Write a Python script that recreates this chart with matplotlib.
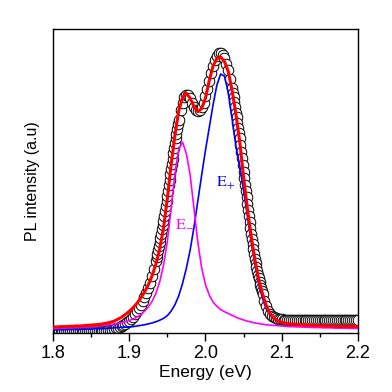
import numpy as np
import matplotlib
matplotlib.use("Agg")
import matplotlib.pyplot as plt

plt.rcParams['font.family'] = ['Liberation Sans', 'DejaVu Sans']

# measured PL spectrum (open circles), read in pieces with different steps
exp_a = [0.002, 0.002, 0.002, 0.002, 0.002, 0.003, 0.003, 0.003, 0.003, 0.003,
         0.003, 0.003, 0.003, 0.004, 0.004, 0.004, 0.004, 0.004, 0.004, 0.005,
         0.005, 0.005, 0.005, 0.006, 0.006, 0.006, 0.007, 0.007, 0.008, 0.009,
         0.010, 0.011, 0.013, 0.015, 0.017, 0.020, 0.023, 0.027, 0.031, 0.036,
         0.041, 0.047, 0.054, 0.062, 0.071, 0.081, 0.092, 0.104, 0.117, 0.131,
         0.147, 0.165, 0.186, 0.210]  # 1.8000 .. 1.9325
exp_b = [0.237, 0.249, 0.261, 0.274, 0.287, 0.300, 0.313, 0.327, 0.341, 0.355,
         0.370, 0.386, 0.402, 0.418, 0.434, 0.450, 0.468, 0.486, 0.504, 0.522,
         0.540, 0.557, 0.574, 0.591, 0.608, 0.625, 0.641, 0.656, 0.671, 0.686,
         0.700]  # 1.935 .. 1.965
exp_c = [0.732, 0.757, 0.775, 0.784, 0.782, 0.772, 0.757, 0.743, 0.734, 0.730,
         0.733, 0.742, 0.757, 0.778, 0.803, 0.830, 0.856, 0.879, 0.898, 0.912,
         0.920, 0.921, 0.915, 0.903, 0.886, 0.864, 0.835]  # 1.9675 .. 2.0325
exp_d = [0.805, 0.790, 0.775, 0.759, 0.742, 0.725, 0.709, 0.692, 0.675, 0.658,
         0.640, 0.619, 0.597, 0.575, 0.553, 0.530, 0.509, 0.488, 0.467, 0.446,
         0.425, 0.405, 0.385, 0.365, 0.345, 0.325, 0.308, 0.292, 0.276, 0.260,
         0.245, 0.231, 0.218, 0.205, 0.192, 0.180, 0.169, 0.158, 0.148, 0.138,
         0.128]  # 2.035 .. 2.075
exp_e = [0.106, 0.088, 0.074, 0.064, 0.057, 0.052, 0.049, 0.047, 0.046, 0.045,
         0.044, 0.044, 0.044, 0.044, 0.044, 0.044, 0.044, 0.044, 0.044, 0.044,
         0.044, 0.044, 0.044, 0.044, 0.044, 0.044, 0.044, 0.044, 0.044, 0.044,
         0.043, 0.043, 0.043, 0.043, 0.043, 0.043, 0.043, 0.043, 0.043, 0.043,
         0.043, 0.043, 0.043, 0.043, 0.043, 0.043, 0.043, 0.043, 0.043, 0.043]  # 2.0775 .. 2.2

exp_energy = np.concatenate([np.linspace(1.8, 1.9325, len(exp_a)),
                             np.linspace(1.935, 1.965, len(exp_b)),
                             np.linspace(1.9675, 2.0325, len(exp_c)),
                             np.linspace(2.035, 2.075, len(exp_d)),
                             np.linspace(2.0775, 2.2, len(exp_e))])
exp_intensity = np.array(exp_a + exp_b + exp_c + exp_d + exp_e)

# fitted curves, every 0.005 eV from 1.8 to 2.2
fit_total = [0.020, 0.020, 0.021, 0.021, 0.022, 0.022, 0.023, 0.023, 0.024, 0.025,
             0.026, 0.027, 0.028, 0.030, 0.032, 0.035, 0.039, 0.045, 0.052, 0.061,
             0.071, 0.083, 0.097, 0.114, 0.134, 0.158, 0.188, 0.226, 0.276, 0.345,
             0.440, 0.553, 0.650, 0.730, 0.775, 0.789, 0.772, 0.745, 0.728, 0.738,
             0.772, 0.830, 0.878, 0.903, 0.908, 0.893, 0.860, 0.798, 0.720, 0.630,
             0.515, 0.410, 0.320, 0.240, 0.175, 0.128, 0.089, 0.063, 0.048, 0.040,
             0.035, 0.032, 0.030, 0.029, 0.028, 0.027, 0.026, 0.026, 0.025, 0.025,
             0.024, 0.024, 0.023, 0.023, 0.023, 0.022, 0.022, 0.022, 0.022, 0.022,
             0.022]
fit_eplus = [0.011, 0.011, 0.011, 0.011, 0.012, 0.012, 0.012, 0.012, 0.013, 0.013,
             0.013, 0.014, 0.014, 0.015, 0.015, 0.016, 0.017, 0.018, 0.019, 0.019,
             0.020, 0.021, 0.023, 0.025, 0.027, 0.030, 0.033, 0.037, 0.042, 0.048,
             0.057, 0.072, 0.093, 0.122, 0.163, 0.213, 0.273, 0.348, 0.433, 0.518,
             0.600, 0.675, 0.750, 0.815, 0.852, 0.845, 0.790, 0.705, 0.615, 0.550,
             0.470, 0.385, 0.300, 0.225, 0.160, 0.112, 0.078, 0.058, 0.046, 0.039,
             0.035, 0.032, 0.030, 0.028, 0.027, 0.026, 0.025, 0.024, 0.023, 0.022,
             0.022, 0.021, 0.021, 0.020, 0.020, 0.019, 0.018, 0.018, 0.017, 0.017,
             0.016]
fit_eminus = [0.015, 0.015, 0.016, 0.016, 0.017, 0.017, 0.018, 0.018, 0.019, 0.020,
              0.021, 0.022, 0.023, 0.024, 0.026, 0.027, 0.029, 0.031, 0.034, 0.037,
              0.041, 0.046, 0.052, 0.060, 0.071, 0.085, 0.104, 0.130, 0.168, 0.222,
              0.300, 0.410, 0.525, 0.605, 0.628, 0.590, 0.520, 0.410, 0.300, 0.215,
              0.160, 0.125, 0.102, 0.088, 0.077, 0.070, 0.064, 0.058, 0.052, 0.047,
              0.043, 0.039, 0.036, 0.033, 0.031, 0.029, 0.027, 0.026, 0.025, 0.024,
              0.023, 0.022, 0.021, 0.021, 0.020, 0.020, 0.019, 0.019, 0.018, 0.018,
              0.018, 0.017, 0.017, 0.017, 0.016, 0.016, 0.016, 0.016, 0.015, 0.015,
              0.015]
fit_energy = np.linspace(1.8, 2.2, len(fit_total))

fig = plt.figure(figsize=(3.92, 3.92), dpi=100)
ax = fig.add_axes([0.135, 0.1505, 0.778, 0.7755])

ax.plot(exp_energy, exp_intensity, 'o', ms=7.6, mfc='white', mec='black',
        mew=0.7, zorder=2)
ax.plot(fit_energy, fit_eplus, color='#0000ff', lw=1.2, zorder=3)
ax.plot(fit_energy, fit_eminus, color='#ff00ff', lw=1.2, zorder=3)
ax.plot(fit_energy, fit_total, color='#ff0000', lw=2.2, zorder=4)

ax.text(2.0138, 0.493, r'$\mathrm{E}_{+}$', color='#0000ff', fontsize=11.5,
        math_fontfamily='stix', ha='left', va='center')
ax.text(1.960, 0.365, r'$\mathrm{E}_{-}$', color='#ff00ff', fontsize=11.5,
        math_fontfamily='stix', ha='left', va='center')

ax.set_xlim(1.8, 2.2)
ax.set_ylim(0, 1)
ax.set_xticks([1.8, 1.9, 2.0, 2.1, 2.2])
ax.set_xticks([1.85, 1.95, 2.05, 2.15], minor=True)
ax.set_yticks([])
ax.tick_params(axis='x', which='major', direction='out', length=5.5, width=1,
               labelsize=13, pad=3)
ax.tick_params(axis='x', which='minor', direction='out', length=3, width=1)
for s in ax.spines.values():
    s.set_linewidth(1.0)

ax.set_xlabel('Energy (eV)', fontsize=12.5, labelpad=2)
ax.set_ylabel('PL intensity (a.u)', fontsize=11.5, labelpad=9)

fig.savefig('out.png', dpi=100)
